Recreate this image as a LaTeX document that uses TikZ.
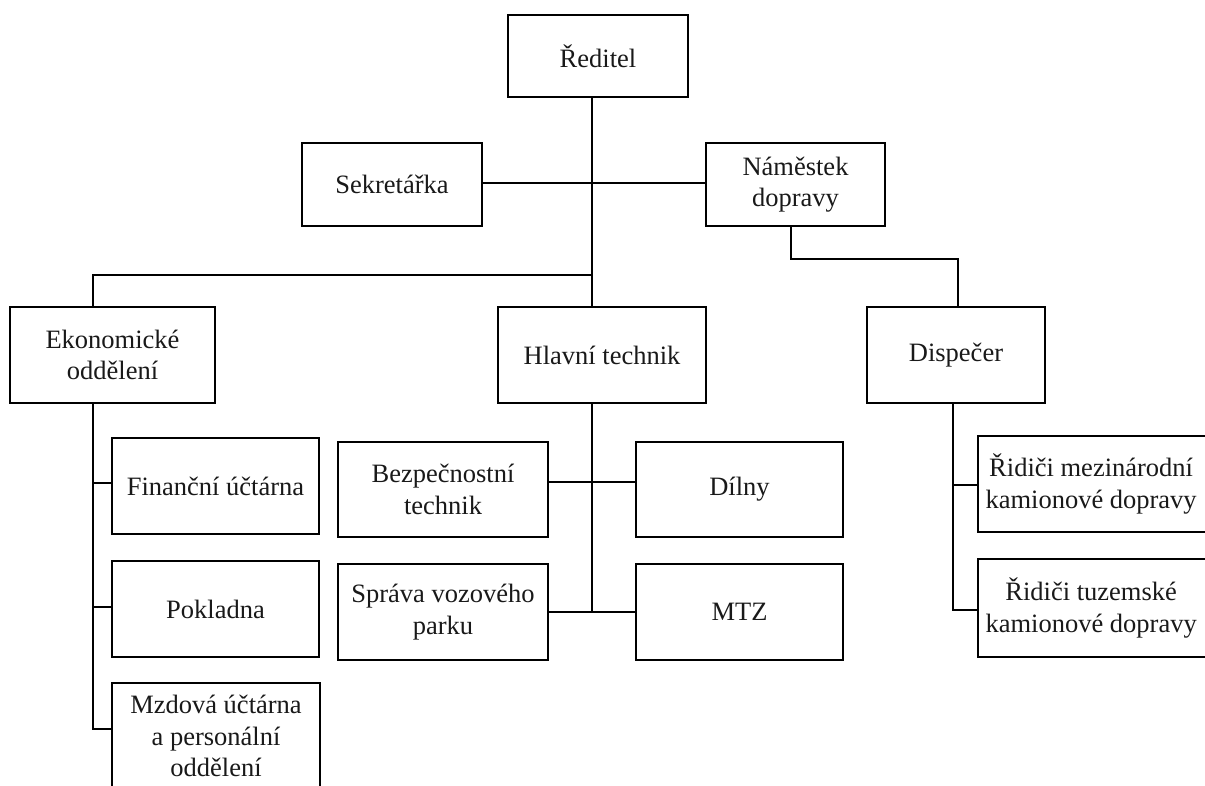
\documentclass[tikz,border=0pt]{standalone}
\usepackage{fontspec}
\setmainfont{Liberation Serif}
\begin{document}
\begin{tikzpicture}[x=1pt,y=-1pt,
  orgbox/.style={draw, line width=1.7pt, inner sep=0pt, align=center,
    font=\fontsize{26.5}{31.5}\selectfont, text=black!90},
  orgtext/.style={font=\fontsize{26.5}{31.5}\selectfont, text=black!90, align=center},
  link/.style={line width=1.7pt}]
\useasboundingbox (0,0) rectangle (1205,785);
\clip (0,0) rectangle (1205,785);
% boxes
\node[orgbox, minimum width=180, minimum height=82] (red) at (598,56) {Ředitel};
\node[orgbox, minimum width=180, minimum height=83] (sek) at (392,184.5) {Sekretářka};
\node[orgbox, minimum width=179, minimum height=83] (nam) at (795.5,184.5) {Náměstek\\dopravy};
\node[orgbox, minimum width=205, minimum height=96] (eko) at (112.5,355) {Ekonomické\\oddělení};
\node[orgbox, minimum width=208, minimum height=96] (hlav) at (602,355) {Hlavní technik};
\node[orgbox, minimum width=178, minimum height=96] (dis) at (956,355) {Dispečer};
\node[orgbox, minimum width=207, minimum height=96] (fin) at (215.5,486) {Finanční účtárna};
\node[orgbox, minimum width=207, minimum height=96] (pok) at (215.5,609) {Pokladna};
\node[orgbox, minimum width=208, minimum height=120] (mzd) at (216,743) {};
\node[orgtext] at (216,736) {Mzdová účtárna\\a personální\\oddělení};
\node[orgbox, minimum width=210, minimum height=95] (bez) at (443,489.5) {Bezpečnostní\\technik};
\node[orgbox, minimum width=207, minimum height=95] (dil) at (739.5,489.5) {Dílny};
\node[orgbox, minimum width=210, minimum height=96] (spr) at (443,612) {Správa vozového\\parku};
\node[orgbox, minimum width=207, minimum height=96] (mtz) at (739.5,612) {MTZ};
\node[orgbox, minimum width=240, minimum height=96] (r1) at (1098,484) {};
\node[orgtext, anchor=west] at (982,484) {Řidiči mezinárodní\\kamionové dopravy};
\node[orgbox, minimum width=240, minimum height=98] (r2) at (1098,608) {};
\node[orgtext, anchor=west] at (982,608) {Řidiči tuzemské\\kamionové dopravy};
% junction coordinates
\coordinate (j1) at (592,183);
\coordinate (j2) at (592,275);
\coordinate (ek) at (93,275);
\coordinate (nd) at (791,259);
\coordinate (hb) at (592,482);
\coordinate (hc) at (592,612);
\coordinate (dx) at (953,403);
% connectors
\draw[link] (j1 |- red.south) -- (j2) -- (ek) -- (ek |- eko.north);
\draw[link] (j2) -- (j2 |- hlav.north);
\draw[link] (sek.east |- j1) -- (nam.west |- j1);
\draw[link] (nd |- nam.south) -- (nd) -- (958,259) -- (958,307);
\draw[link] (ek |- eko.south) -- (93,729) -- (mzd.west |- 0,729);
\draw[link] (93,483) -- (fin.west |- 0,483);
\draw[link] (93,607) -- (pok.west |- 0,607);
\draw[link] (j2 |- hlav.south) -- (hc);
\draw[link] (bez.east |- hb) -- (dil.west |- hb);
\draw[link] (spr.east |- hc) -- (mtz.west |- hc);
\draw[link] (dx |- dis.south) -- (953,610) -- (r2.west |- 0,610);
\draw[link] (953,485) -- (r1.west |- 0,485);
\end{tikzpicture}
\end{document}
